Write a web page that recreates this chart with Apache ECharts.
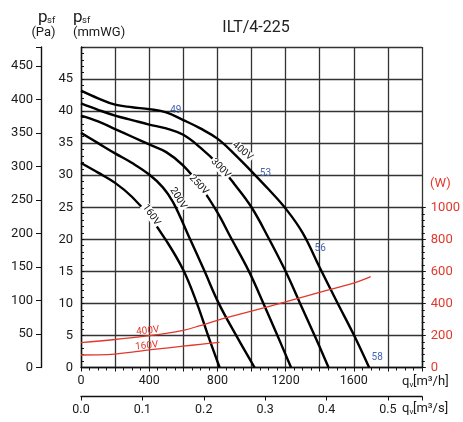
<!DOCTYPE html>
<html><head><meta charset="utf-8">
<script src="https://cdn.jsdelivr.net/npm/echarts@6/dist/echarts.min.js"></script>
<style>html,body{margin:0;padding:0;background:#fff}#c{width:463px;height:422px}</style>
</head><body><div id="c"></div>
<script>
// ---- data (flow m3/h, static pressure mmWG) ----
const chartTitle = 'ILT/4-225';
const flowMax = 2000;          // m3/h
const pressMax = 50;           // mmWG
const paMax = 478.6;           // Pa at top of frame
const powerMax = 1000;         // W
const voltages = ['160V', '200V', '250V', '300V', '400V'];
const p160 = [[0,31.9],[100,30.4],[200,28.8],[300,26.6],[400,23.6],[500,19.8],[600,15.2],[680,10],[745,5],[813,0]];
const p200 = [[0,36.6],[100,35.0],[200,33.4],[300,31.9],[400,30.1],[480,28.1],[540,25.8],[640,20],[725,15],[808,10],[910,5],[1018,0]];
const p250 = [[0,39.3],[100,38.4],[200,37.2],[300,36.0],[400,34.8],[500,33.6],[600,31.5],[700,28.3],[800,24.2],[880,20.2],[985,15],[1070,10],[1152,5],[1232,0]];
const p300 = [[0,41.2],[100,40.2],[200,39.3],[300,38.6],[400,37.9],[500,37.3],[600,36.3],[700,34.3],[800,31.8],[900,28.6],[1000,25.0],[1100,20.2],[1200,15.0],[1285,10],[1370,5],[1452,0]];
const p400 = [[0,43.2],[100,42.0],[200,41.0],[300,40.6],[400,40.3],[500,39.8],[600,38.6],[700,37.3],[800,35.7],[900,33.3],[1000,30.6],[1100,27.8],[1200,24.8],[1300,21.0],[1400,15.6],[1500,10.3],[1600,5.1],[1690,0]];
// power curves (flow m3/h, W)
const w400 = [[0,155],[200,175],[400,199],[500,213],[600,232],[700,262],[800,295],[900,324],[1000,352],[1200,410],[1400,470],[1600,527],[1700,568]];
const w160 = [[0,78],[100,79],[200,84],[300,96],[400,110],[500,121],[600,133],[700,145],[813,157]];
// annotations
const effText = ['49', '53', '56', '58'];
const effAt = [[556,40.1],[1082,30.2],[1403,18.5],[1737,1.6]];
const voltAt = [[412,23.8],[570,26.4],[690,28.5],[819,31.1],[947,33.75]];
const powerLabelText = ['400V', '160V'];
const powerLabelAt = [[392,229],[386,135]];

const pressCurves = [p160, p200, p250, p300, p400];
const voltRot = [-55, -58, -47, -45, -40];
const powerCurves = [w400, w160];

const F = 'Roboto, "Noto Sans", sans-serif';
const RED = '#e2382c', BLUE = '#4366b3', INK = '#1a1a1a';

const chart = echarts.init(document.getElementById('c'), null, {renderer: 'canvas'});

const series = pressCurves.map((d, i) => {
  const s = {
    type: 'line', xAxisIndex: 0, yAxisIndex: 0, data: d, smooth: 0.4,
    showSymbol: false, silent: true, animation: false,
    lineStyle: {color: '#000', width: 2.4},
    markPoint: {
      symbol: 'circle', symbolSize: 1, itemStyle: {color: 'rgba(0,0,0,0)'}, animation: false,
      data: [{coord: voltAt[i], label: {show: true, position: 'inside', formatter: voltages[i],
        rotate: voltRot[i], color: '#111', fontSize: 10, fontFamily: F,
        backgroundColor: '#fff', padding: [0, 1]}}]
    }
  };
  if (i === 4) {
    s.markPoint.data = s.markPoint.data.concat(effAt.map((c, k) => ({
      coord: c, label: {show: true, position: 'inside', formatter: effText[k], color: BLUE, fontSize: 10, fontFamily: F}
    })));
  }
  return s;
}).concat(powerCurves.map((d, i) => ({
  type: 'line', xAxisIndex: 2, yAxisIndex: 2, data: d, smooth: 0.4,
  showSymbol: false, silent: true, animation: false,
  lineStyle: {color: RED, width: 1.3},
  markPoint: {
    symbol: 'circle', symbolSize: 1, itemStyle: {color: 'rgba(0,0,0,0)'}, animation: false,
    data: [{coord: powerLabelAt[i], label: {show: true, position: 'inside', formatter: powerLabelText[i],
      rotate: 6, color: RED, fontSize: 10, fontFamily: F}}]
  }
})));

const axisLine = {show: true, onZero: false, lineStyle: {color: '#111', width: 1.4}};
const lbl = {color: INK, fontSize: 13, fontFamily: F};

function txt(t, x, y, size, color, align) {
  return {type: 'text', x: x, y: y, silent: true,
    style: {text: t, font: size + 'px ' + F, fill: color || INK,
      textAlign: align || 'left', align: align || 'left', textVerticalAlign: 'middle', verticalAlign: 'middle'}};
}

chart.setOption({
  animation: false,
  backgroundColor: '#fff',
  grid: [
    {left: 81, right: 41, top: 47, bottom: 54.5},
    {left: 81, right: 41, top: 207.5, bottom: 54.5}
  ],
  xAxis: [
    {type: 'value', gridIndex: 0, min: 0, max: flowMax, interval: 200,
     axisLine: axisLine,
     axisTick: {show: true, length: 4, lineStyle: {color: '#111'}},
     minorTick: {show: true, splitNumber: 4, length: 3, lineStyle: {color: '#111'}},
     splitLine: {show: true, lineStyle: {color: '#333', width: 1.3}},
     axisLabel: Object.assign({}, lbl, {fontSize: 12.5, margin: 7,
       formatter: v => (v % 400 === 0 && v < flowMax) ? String(v) : ''})},
    {type: 'value', gridIndex: 0, min: 0, max: flowMax / 3600, interval: 0.1, position: 'bottom', offset: 29,
     axisLine: axisLine,
     axisTick: {show: true, length: 4, lineStyle: {color: '#111'}},
     splitLine: {show: false},
     axisLabel: Object.assign({}, lbl, {fontSize: 12.5, margin: 7,
       formatter: v => Math.abs(v * 10 - Math.round(v * 10)) < 1e-6 ? v.toFixed(1) : ''})},
    {type: 'value', gridIndex: 1, min: 0, max: flowMax, show: false}
  ],
  yAxis: [
    {type: 'value', gridIndex: 0, min: 0, max: pressMax, interval: 5, position: 'left',
     axisLine: axisLine,
     axisTick: {show: true, inside: true, length: 3, lineStyle: {color: '#111'}},
     minorTick: {show: true, splitNumber: 5, length: 3, lineStyle: {color: '#111'}},
     splitLine: {show: true, lineStyle: {color: '#333', width: 1.3}},
     axisLabel: Object.assign({}, lbl, {margin: 8, formatter: v => v < pressMax ? String(v) : ''})},
    {type: 'value', gridIndex: 0, min: 0, max: paMax, interval: 50, position: 'left', offset: 40,
     axisLine: axisLine,
     axisTick: {show: true, length: 5, lineStyle: {color: '#111'}},
     splitLine: {show: false},
     axisLabel: Object.assign({}, lbl, {margin: 8, formatter: v => (v % 50 === 0) ? String(v) : ''})},
    {type: 'value', gridIndex: 1, min: 0, max: powerMax, interval: 200, position: 'right',
     axisLine: axisLine,
     axisTick: {show: true, length: 4, lineStyle: {color: '#111'}},
     minorTick: {show: true, splitNumber: 5, length: 3, lineStyle: {color: '#111'}},
     splitLine: {show: false},
     axisLabel: Object.assign({}, lbl, {color: RED, margin: 9, formatter: v => String(v)})}
  ],
  graphic: [
    txt(chartTitle, 256, 28, 16, '#222', 'center'),
    txt('p', 38, 18, 17),
    txt('sf', 47, 21, 9.5),
    txt('(Pa)', 43.5, 32.5, 13, INK, 'center'),
    txt('p', 73, 18, 17),
    txt('sf', 82, 21, 9.5),
    txt('(mmWG)', 73, 32.5, 13),
    txt('(W)', 430, 184, 13, RED),
    txt('q', 402, 382, 13),
    txt('v', 409.5, 385, 8),
    txt('[m³/h]', 413, 382, 13),
    txt('q', 402, 409, 13),
    txt('v', 409.5, 412, 8),
    txt('[m³/s]', 413, 409, 13)
  ],
  series: series
});
</script></body></html>
